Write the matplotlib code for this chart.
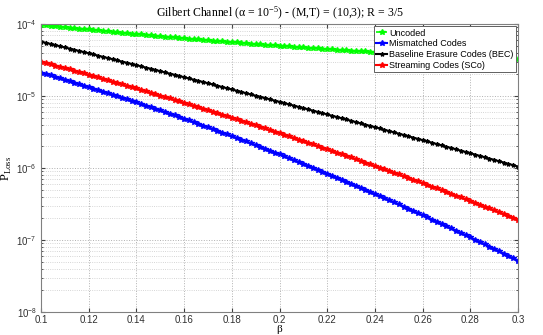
import numpy as np
import matplotlib
matplotlib.use("Agg")
import matplotlib.pyplot as plt
from matplotlib.ticker import FuncFormatter, FormatStrFormatter, LogLocator, MultipleLocator

# beta grid, 0.1 .. 0.3 in steps of 0.002
beta = np.linspace(0.1, 0.3, 101)

# loss probabilities, stored as log10 exponents
uncoded_exp = [
    -4.007, -4.014, -4.021, -4.027, -4.034, -4.041, -4.048, -4.054, -4.061, -4.067,
    -4.074, -4.080, -4.087, -4.093, -4.100, -4.106, -4.112, -4.118, -4.125, -4.131,
    -4.137, -4.143, -4.149, -4.155, -4.161, -4.167, -4.173, -4.179, -4.184, -4.190,
    -4.196, -4.201, -4.207, -4.212, -4.218, -4.223, -4.228, -4.234, -4.239, -4.245,
    -4.250, -4.255, -4.260, -4.266, -4.271, -4.276, -4.281, -4.286, -4.290, -4.295,
    -4.300, -4.305, -4.310, -4.314, -4.319, -4.324, -4.328, -4.333, -4.337, -4.342,
    -4.346, -4.350, -4.354, -4.359, -4.363, -4.367, -4.371, -4.375, -4.379, -4.383,
    -4.387, -4.391, -4.395, -4.398, -4.402, -4.406, -4.410, -4.413, -4.417, -4.420,
    -4.424, -4.428, -4.431, -4.435, -4.438, -4.442, -4.445, -4.448, -4.451, -4.454,
    -4.457, -4.460, -4.463, -4.466, -4.469, -4.472, -4.475, -4.478, -4.480, -4.483,
    -4.486]

mismatched_exp = [
    -4.674, -4.694, -4.713, -4.733, -4.752, -4.772, -4.792, -4.813, -4.833, -4.854,
    -4.874, -4.895, -4.916, -4.937, -4.958, -4.979, -5.001, -5.022, -5.044, -5.065,
    -5.087, -5.109, -5.132, -5.154, -5.177, -5.199, -5.222, -5.245, -5.269, -5.292,
    -5.315, -5.339, -5.362, -5.386, -5.409, -5.433, -5.458, -5.482, -5.507, -5.531,
    -5.556, -5.581, -5.606, -5.631, -5.656, -5.681, -5.707, -5.733, -5.758, -5.784,
    -5.810, -5.836, -5.863, -5.889, -5.916, -5.942, -5.969, -5.996, -6.024, -6.051,
    -6.078, -6.106, -6.134, -6.161, -6.189, -6.217, -6.246, -6.274, -6.303, -6.331,
    -6.360, -6.389, -6.418, -6.447, -6.476, -6.505, -6.535, -6.565, -6.595, -6.625,
    -6.655, -6.685, -6.716, -6.746, -6.777, -6.807, -6.838, -6.869, -6.901, -6.932,
    -6.963, -6.995, -7.027, -7.059, -7.091, -7.123, -7.156, -7.188, -7.221, -7.253,
    -7.286]

bec_exp = [
    -4.243, -4.259, -4.275, -4.292, -4.308, -4.324, -4.340, -4.356, -4.373, -4.389,
    -4.405, -4.422, -4.438, -4.455, -4.471, -4.488, -4.504, -4.521, -4.537, -4.554,
    -4.570, -4.587, -4.604, -4.620, -4.637, -4.654, -4.671, -4.688, -4.704, -4.721,
    -4.738, -4.755, -4.772, -4.788, -4.805, -4.822, -4.839, -4.856, -4.874, -4.891,
    -4.908, -4.925, -4.942, -4.960, -4.977, -4.994, -5.011, -5.028, -5.046, -5.063,
    -5.080, -5.097, -5.115, -5.132, -5.150, -5.167, -5.185, -5.202, -5.220, -5.237,
    -5.255, -5.273, -5.290, -5.308, -5.325, -5.343, -5.361, -5.379, -5.396, -5.414,
    -5.432, -5.450, -5.468, -5.486, -5.504, -5.522, -5.540, -5.558, -5.576, -5.594,
    -5.612, -5.630, -5.648, -5.667, -5.685, -5.703, -5.721, -5.739, -5.758, -5.776,
    -5.794, -5.812, -5.831, -5.849, -5.868, -5.886, -5.905, -5.923, -5.942, -5.960,
    -5.979]

sco_exp = [
    -4.521, -4.539, -4.557, -4.575, -4.593, -4.611, -4.629, -4.648, -4.666, -4.685,
    -4.703, -4.722, -4.741, -4.760, -4.779, -4.798, -4.817, -4.836, -4.856, -4.875,
    -4.894, -4.914, -4.933, -4.953, -4.972, -4.992, -5.012, -5.032, -5.053, -5.073,
    -5.093, -5.113, -5.134, -5.154, -5.175, -5.195, -5.216, -5.237, -5.258, -5.279,
    -5.300, -5.321, -5.342, -5.364, -5.385, -5.406, -5.428, -5.450, -5.471, -5.493,
    -5.515, -5.537, -5.559, -5.582, -5.604, -5.626, -5.649, -5.671, -5.694, -5.716,
    -5.739, -5.762, -5.785, -5.807, -5.830, -5.853, -5.876, -5.900, -5.923, -5.947,
    -5.970, -5.994, -6.018, -6.041, -6.065, -6.089, -6.113, -6.137, -6.162, -6.186,
    -6.210, -6.235, -6.259, -6.284, -6.308, -6.333, -6.358, -6.383, -6.409, -6.434,
    -6.459, -6.484, -6.510, -6.535, -6.561, -6.586, -6.612, -6.638, -6.663, -6.689,
    -6.715]

labels = ["Uncoded", "Mismatched Codes", "Baseline Erasure Codes (BEC)", "Streaming Codes (SCo)"]

serif = "Liberation Serif"
sans = "Liberation Sans"

fig = plt.figure(figsize=(5.43, 3.35), dpi=100)
ax = fig.add_axes([0.0755, 0.0687, 0.8785, 0.8593])

ax.semilogy(beta, 10.0 ** np.array(uncoded_exp), "--", color=(0, 1, 0), marker="*",
            markersize=4, lw=1.2, label=labels[0])
ax.semilogy(beta, 10.0 ** np.array(mismatched_exp), "-", color=(0, 0, 1), marker="*",
            markersize=4, lw=1.5, label=labels[1])
ax.semilogy(beta, 10.0 ** np.array(bec_exp), "-", color="k", marker="*",
            markersize=3, lw=1.5, label=labels[2])
ax.semilogy(beta, 10.0 ** np.array(sco_exp), "-", color=(1, 0, 0), marker="*",
            markersize=4, lw=1.5, label=labels[3])

ax.set_xlim(0.1, 0.3)
ax.set_ylim(1e-8, 1e-4)
ax.xaxis.set_major_locator(MultipleLocator(0.02))
ax.xaxis.set_major_formatter(FormatStrFormatter("%g"))
ax.yaxis.set_major_locator(LogLocator(base=10, numticks=10))
ax.yaxis.set_minor_locator(LogLocator(base=10, subs=np.arange(2, 10), numticks=20))
ax.yaxis.set_major_formatter(FuncFormatter(lambda v, p: r"$\mathregular{10^{%d}}$" % round(np.log10(v))))

ax.grid(True, which="major", axis="both", ls=":", color="#b0b0b0", lw=0.7)
ax.grid(True, which="minor", axis="y", ls=":", color="#c8c8c8", lw=0.6)
ax.tick_params(which="both", direction="in", colors="#404040", labelsize=7,
               top=True, right=True)
ax.tick_params(axis="x", pad=2)
ax.tick_params(axis="y", pad=3)
ax.tick_params(which="major", length=3)
ax.tick_params(which="minor", length=1.5)
for lab in ax.get_xticklabels() + ax.get_yticklabels():
    lab.set_fontfamily(sans)
    lab.set_color("#303030")
for s in ax.spines.values():
    s.set_color("#808080")
    s.set_linewidth(0.8)

ax.set_title("Gilbert Channel (\u03b1 = $\\mathregular{10^{-5}}$) - (M,T) = (10,3); R = 3/5",
             fontfamily=serif, fontsize=8.5, pad=5)
ax.set_xlabel("\u03b2", fontfamily=serif, fontsize=8)
ax.xaxis.set_label_coords(0.5, -0.045)
ax.set_ylabel(r"P$_{\mathregular{Loss}}$", fontfamily=serif, fontsize=9)
ax.yaxis.set_label_coords(-0.056, 0.5)

leg = ax.legend(loc="upper right", prop={"family": sans, "size": 6.5}, fancybox=False,
                framealpha=1, edgecolor="#606060", borderpad=0.25, labelspacing=0.2,
                handlelength=1.2, handletextpad=0.2, borderaxespad=0.25)
leg.get_frame().set_linewidth(0.7)

fig.savefig("out.png", dpi=100)
